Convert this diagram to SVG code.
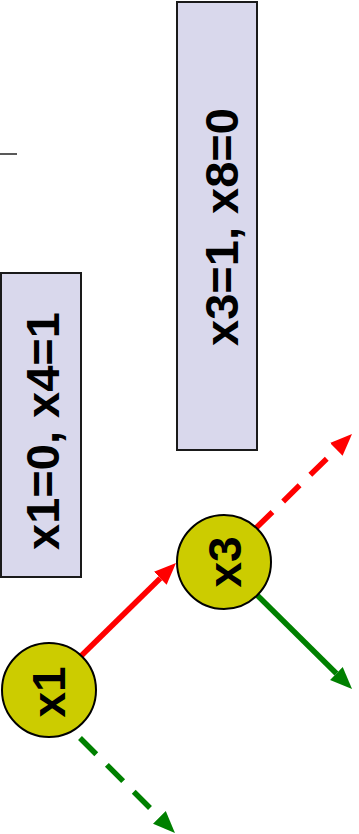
<svg xmlns="http://www.w3.org/2000/svg" width="359" height="834" viewBox="0 0 359 834">
<style>
.box{fill:#d9d8ec;stroke:#1a1a1a;stroke-width:2}
.node{fill:#cccc00;stroke:#000;stroke-width:2}
.t{font-family:"Liberation Sans",Arial,sans-serif;font-weight:bold;font-size:47px;fill:#000;text-anchor:middle}
.n{font-size:46px}
.red{stroke:#ff0000;stroke-width:5.5;fill:none}
.green{stroke:#008000;stroke-width:5.5;fill:none}
.dash{stroke-dasharray:23,15}
</style>
<defs>
<marker id="ah-red" markerUnits="userSpaceOnUse" markerWidth="24" markerHeight="20" viewBox="0 -10 24 20" refX="0" refY="0" orient="auto"><path d="M0,-9 L22,0 L0,9 z" fill="#ff0000"/></marker>
<marker id="ah-green" markerUnits="userSpaceOnUse" markerWidth="24" markerHeight="20" viewBox="0 -10 24 20" refX="0" refY="0" orient="auto"><path d="M0,-9 L22,0 L0,9 z" fill="#008000"/></marker>
</defs>
<line x1="0" y1="154" x2="17" y2="154" stroke="#222" stroke-width="1.5"/>
<g id="box1">
<rect class="box" x="1" y="273" width="80" height="304"/>
<text class="t" transform="translate(59,431) rotate(-90)">x1=0, x4=1</text>
</g>
<g id="box2">
<rect class="box" x="177" y="2" width="80" height="448"/>
<text class="t" transform="translate(238,227) rotate(-90)">x3=1, x8=0</text>
</g>
<g id="connectors">
<line class="red" x1="80" y1="657" x2="160.3" y2="578.3" marker-end="url(#ah-red)"/>
<line class="red dash" x1="256" y1="528" x2="336.3" y2="449.4" marker-end="url(#ah-red)"/>
<line class="green" x1="257" y1="595" x2="336.4" y2="673.5" marker-end="url(#ah-green)"/>
<line class="green dash" x1="80" y1="738" x2="159.4" y2="817.4" marker-end="url(#ah-green)"/>
</g>
<g id="x1">
<circle class="node" cx="49" cy="690" r="47"/>
<text class="t n" transform="translate(65,692) rotate(-90)">x1</text>
</g>
<g id="x3">
<circle class="node" cx="224" cy="562" r="47"/>
<text class="t n" transform="translate(241,562) rotate(-90)">x3</text>
</g>
</svg>
